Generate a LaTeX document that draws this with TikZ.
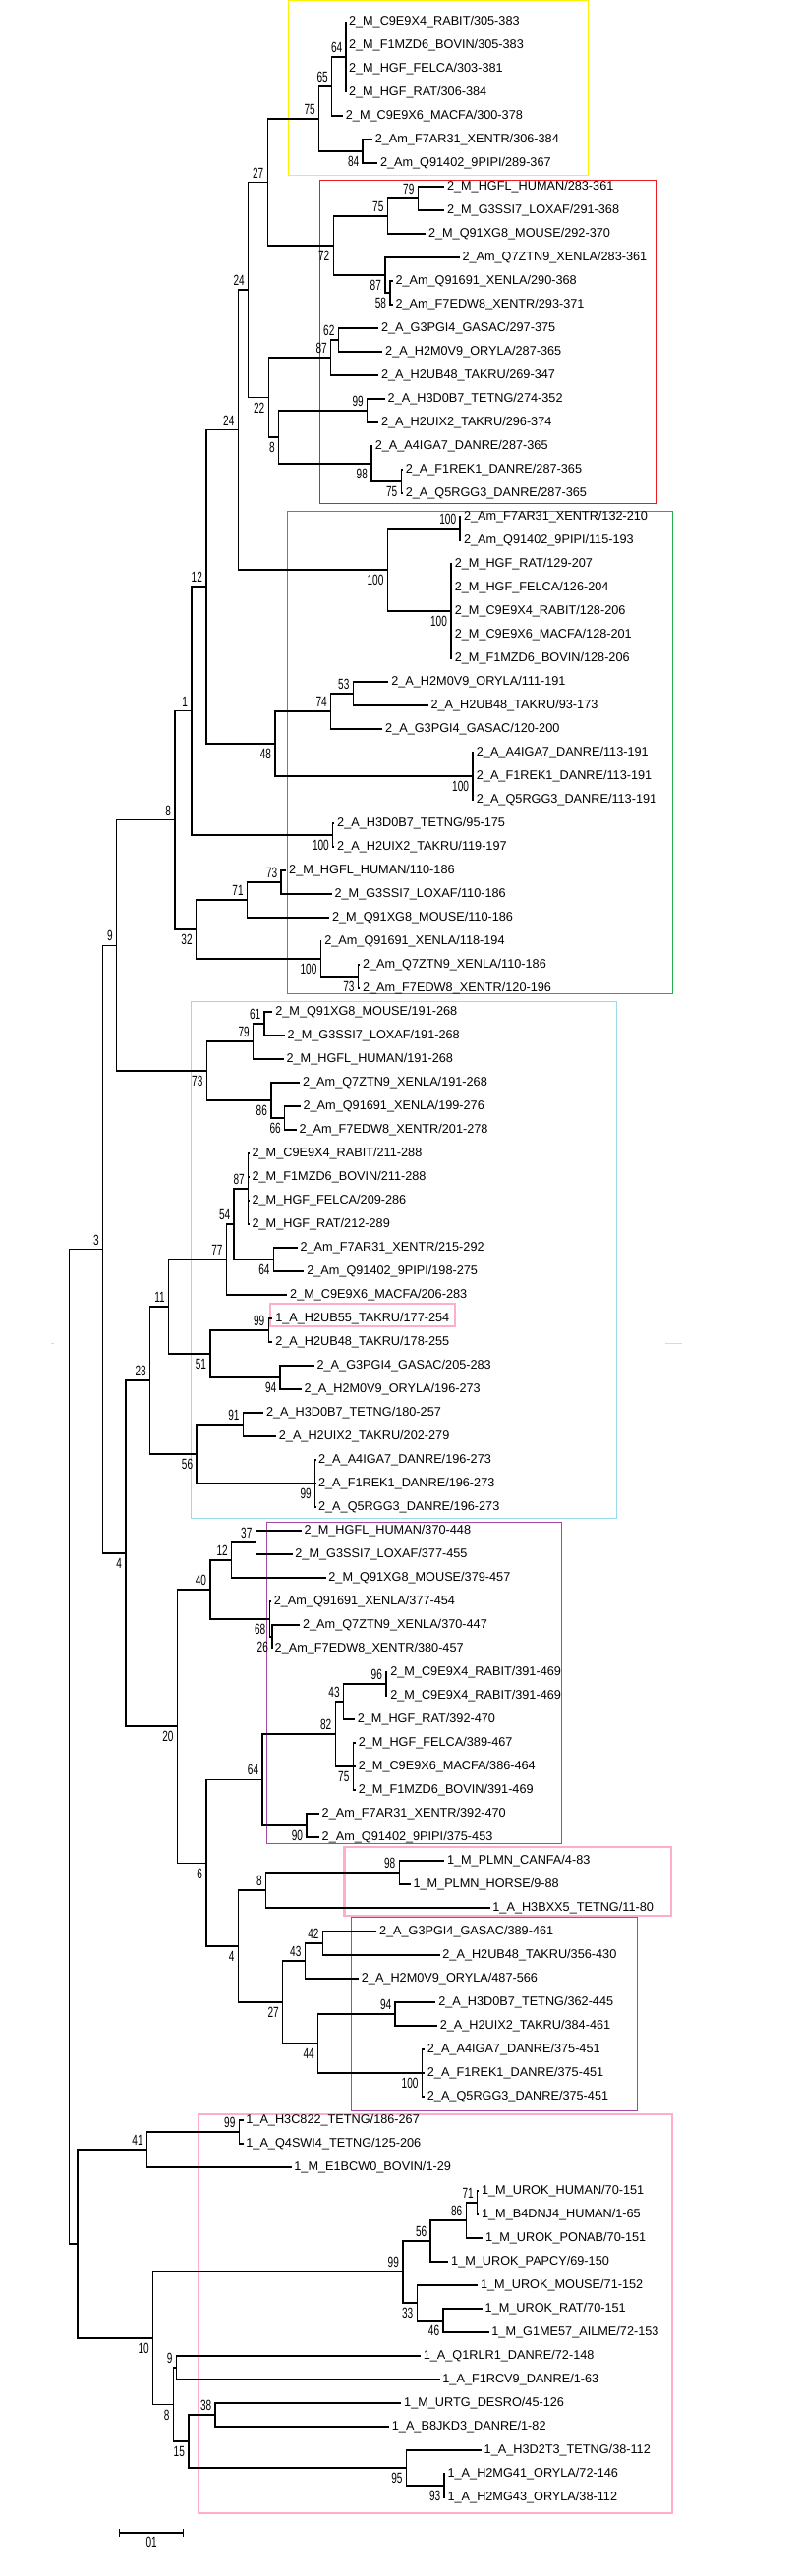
\documentclass[tikz,border=0pt]{standalone}
\usepackage{fontspec}
\setmainfont{Liberation Sans}
\usepackage{graphicx}
\usepackage{xcolor}
\usepackage{tikz}
\definecolor{BoxYellow}{HTML}{FFF200}
\definecolor{BoxRed}{HTML}{ED1C24}
\definecolor{BoxGreen}{HTML}{22B14C}
\definecolor{BoxCyan}{HTML}{99D9EA}
\definecolor{BoxPurple}{HTML}{A349A4}
\definecolor{BoxPink}{HTML}{FFAEC9}
\definecolor{MarkGrey}{HTML}{DADADA}
\newcommand{\bsv}[1]{\scalebox{0.68}[1]{#1}}
\tikzset{
  % Branch
  br/.style={line width=0.7pt,black},
  % Leaf label
  lf/.style={anchor=west,inner xsep=1.25pt,inner ysep=0pt,
             font=\fontsize{6.35}{7}\selectfont},
  % Bootstrap values (above / below the node)
  bU/.style={anchor=south east,inner sep=0pt,xshift=-1.75pt,yshift=2pt,
             font=\fontsize{7.4}{8}\selectfont},
  bD/.style={anchor=north east,inner sep=0pt,xshift=-1.75pt,yshift=-2.5pt,
             font=\fontsize{7.4}{8}\selectfont},
  % Group boxes
  GB/.style={line width=0.5pt},
  gY/.style={GB,draw=BoxYellow},
  gR/.style={GB,draw=BoxRed},
  gG/.style={GB,draw=BoxGreen},
  gC/.style={GB,draw=BoxCyan},
  gP/.style={GB,draw=BoxPurple},
  gK/.style={line width=1.1pt,draw=BoxPink},
  mk/.style={line width=0.5pt,draw=MarkGrey},
  sbl/.style={anchor=north,inner sep=0pt,font=\fontsize{7.4}{8}\selectfont}
}

\begin{document}
\begin{tikzpicture}[x=0.5pt,y=-0.5pt]
  \useasboundingbox (0,0) rectangle (812,2622);

  % group boxes
  \draw[gY] (293.8,0.7) rectangle (598.0,178.3);
  \draw[gR] (325.8,183.3) rectangle (668.6,512.7);
  \draw[gG] (292.8,520) rectangle (684.0,1011);
  \draw[gC] (194.3,1019.3) rectangle (627.3,1545);
  \draw[gK] (274.7,1326.7) rectangle (462.9,1350);
  \draw[gP] (271.1,1549.3) rectangle (571.6,1876.7);
  \draw[gK] (350.5,1880) rectangle (683.0,1949.7);
  \draw[gP] (357.7,1951.7) rectangle (648.0,2148.3);
  \draw[gK] (202.1,2151.7) rectangle (684.0,2557.7);
  \draw[mk] (51.5,1367) -- (54.6,1367);
  \draw[mk] (676.8,1367) -- (694.3,1367);

  % leaves
  \node[lf] (l1) at (352.1,22) {2\_M\_C9E9X4\_RABIT/305-383};
  \node[lf] (l2) at (352.1,46) {2\_M\_F1MZD6\_BOVIN/305-383};
  \node[lf] (l3) at (352.1,70) {2\_M\_HGF\_FELCA/303-381};
  \node[lf] (l4) at (352.1,94) {2\_M\_HGF\_RAT/306-384};
  \node[lf] (l5) at (349.0,118) {2\_M\_C9E9X6\_MACFA/300-378};
  \node[lf] (l6) at (378.9,142) {2\_Am\_F7AR31\_XENTR/306-384};
  \node[lf] (l7) at (384.1,166) {2\_Am\_Q91402\_9PIPI/289-367};
  \node[lf] (l8) at (452.1,190) {2\_M\_HGFL\_HUMAN/283-361};
  \node[lf] (l9) at (452.1,214) {2\_M\_G3SSI7\_LOXAF/291-368};
  \node[lf] (l10) at (433.1,238) {2\_M\_Q91XG8\_MOUSE/292-370};
  \node[lf] (l11) at (467.6,262) {2\_Am\_Q7ZTN9\_XENLA/283-361};
  \node[lf] (l12) at (399.6,286) {2\_Am\_Q91691\_XENLA/290-368};
  \node[lf] (l13) at (399.6,310) {2\_Am\_F7EDW8\_XENTR/293-371};
  \node[lf] (l14) at (385.1,334) {2\_A\_G3PGI4\_GASAC/297-375};
  \node[lf] (l15) at (389.3,358) {2\_A\_H2M0V9\_ORYLA/287-365};
  \node[lf] (l16) at (385.1,382) {2\_A\_H2UB48\_TAKRU/269-347};
  \node[lf] (l17) at (391.8,406) {2\_A\_H3D0B7\_TETNG/274-352};
  \node[lf] (l18) at (385.1,430) {2\_A\_H2UIX2\_TAKRU/296-374};
  \node[lf] (l19) at (378.9,454) {2\_A\_A4IGA7\_DANRE/287-365};
  \node[lf] (l20) at (409.9,478) {2\_A\_F1REK1\_DANRE/287-365};
  \node[lf] (l21) at (409.9,502) {2\_A\_Q5RGG3\_DANRE/287-365};
  \node[lf] (l22) at (469.1,526) {2\_Am\_F7AR31\_XENTR/132-210};
  \node[lf] (l23) at (469.1,550) {2\_Am\_Q91402\_9PIPI/115-193};
  \node[lf] (l24) at (459.9,574) {2\_M\_HGF\_RAT/129-207};
  \node[lf] (l25) at (459.9,598) {2\_M\_HGF\_FELCA/126-204};
  \node[lf] (l26) at (459.9,622) {2\_M\_C9E9X4\_RABIT/128-206};
  \node[lf] (l27) at (459.9,646) {2\_M\_C9E9X6\_MACFA/128-201};
  \node[lf] (l28) at (459.9,670) {2\_M\_F1MZD6\_BOVIN/128-206};
  \node[lf] (l29) at (395.4,694) {2\_A\_H2M0V9\_ORYLA/111-191};
  \node[lf] (l30) at (435.6,718) {2\_A\_H2UB48\_TAKRU/93-173};
  \node[lf] (l31) at (389.3,742) {2\_A\_G3PGI4\_GASAC/120-200};
  \node[lf] (l32) at (482.0,766) {2\_A\_A4IGA7\_DANRE/113-191};
  \node[lf] (l33) at (482.0,790) {2\_A\_F1REK1\_DANRE/113-191};
  \node[lf] (l34) at (482.0,814) {2\_A\_Q5RGG3\_DANRE/113-191};
  \node[lf] (l35) at (340.3,838) {2\_A\_H3D0B7\_TETNG/95-175};
  \node[lf] (l36) at (340.3,862) {2\_A\_H2UIX2\_TAKRU/119-197};
  \node[lf] (l37) at (291.3,886) {2\_M\_HGFL\_HUMAN/110-186};
  \node[lf] (l38) at (337.7,910) {2\_M\_G3SSI7\_LOXAF/110-186};
  \node[lf] (l39) at (335.1,934) {2\_M\_Q91XG8\_MOUSE/110-186};
  \node[lf] (l40) at (327.4,958) {2\_Am\_Q91691\_XENLA/118-194};
  \node[lf] (l41) at (366.1,982) {2\_Am\_Q7ZTN9\_XENLA/110-186};
  \node[lf] (l42) at (366.1,1006) {2\_Am\_F7EDW8\_XENTR/120-196};
  \node[lf] (l43) at (277.4,1030) {2\_M\_Q91XG8\_MOUSE/191-268};
  \node[lf] (l44) at (289.8,1054) {2\_M\_G3SSI7\_LOXAF/191-268};
  \node[lf] (l45) at (288.7,1078) {2\_M\_HGFL\_HUMAN/191-268};
  \node[lf] (l46) at (305.2,1102) {2\_Am\_Q7ZTN9\_XENLA/191-268};
  \node[lf] (l47) at (305.7,1126) {2\_Am\_Q91691\_XENLA/199-276};
  \node[lf] (l48) at (301.6,1150) {2\_Am\_F7EDW8\_XENTR/201-278};
  \node[lf] (l49) at (253.7,1174) {2\_M\_C9E9X4\_RABIT/211-288};
  \node[lf] (l50) at (253.7,1198) {2\_M\_F1MZD6\_BOVIN/211-288};
  \node[lf] (l51) at (253.7,1222) {2\_M\_HGF\_FELCA/209-286};
  \node[lf] (l52) at (253.7,1246) {2\_M\_HGF\_RAT/212-289};
  \node[lf] (l53) at (302.7,1270) {2\_Am\_F7AR31\_XENTR/215-292};
  \node[lf] (l54) at (309.4,1294) {2\_Am\_Q91402\_9PIPI/198-275};
  \node[lf] (l55) at (292.3,1318) {2\_M\_C9E9X6\_MACFA/206-283};
  \node[lf] (l56) at (277.4,1342) {1\_A\_H2UB55\_TAKRU/177-254};
  \node[lf] (l57) at (277.4,1366) {2\_A\_H2UB48\_TAKRU/178-255};
  \node[lf] (l58) at (319.7,1390) {2\_A\_G3PGI4\_GASAC/205-283};
  \node[lf] (l59) at (306.8,1414) {2\_A\_H2M0V9\_ORYLA/196-273};
  \node[lf] (l60) at (268.1,1438) {2\_A\_H3D0B7\_TETNG/180-257};
  \node[lf] (l61) at (281.0,1462) {2\_A\_H2UIX2\_TAKRU/202-279};
  \node[lf] (l62) at (321.2,1486) {2\_A\_A4IGA7\_DANRE/196-273};
  \node[lf] (l63) at (321.2,1510) {2\_A\_F1REK1\_DANRE/196-273};
  \node[lf] (l64) at (321.2,1534) {2\_A\_Q5RGG3\_DANRE/196-273};
  \node[lf] (l65) at (306.8,1558) {2\_M\_HGFL\_HUMAN/370-448};
  \node[lf] (l66) at (297.5,1582) {2\_M\_G3SSI7\_LOXAF/377-455};
  \node[lf] (l67) at (331.5,1606) {2\_M\_Q91XG8\_MOUSE/379-457};
  \node[lf] (l68) at (275.9,1630) {2\_Am\_Q91691\_XENLA/377-454};
  \node[lf] (l69) at (305.2,1654) {2\_Am\_Q7ZTN9\_XENLA/370-447};
  \node[lf] (l70) at (276.8,1678) {2\_Am\_F7EDW8\_XENTR/380-457};
  \node[lf] (l71) at (394.4,1702) {2\_M\_C9E9X4\_RABIT/391-469};
  \node[lf] (l72) at (394.4,1726) {2\_M\_C9E9X4\_RABIT/391-469};
  \node[lf] (l73) at (360.9,1750) {2\_M\_HGF\_RAT/392-470};
  \node[lf] (l74) at (361.9,1774) {2\_M\_HGF\_FELCA/389-467};
  \node[lf] (l75) at (361.9,1798) {2\_M\_C9E9X6\_MACFA/386-464};
  \node[lf] (l76) at (361.9,1822) {2\_M\_F1MZD6\_BOVIN/391-469};
  \node[lf] (l77) at (324.8,1846) {2\_Am\_F7AR31\_XENTR/392-470};
  \node[lf] (l78) at (324.8,1870) {2\_Am\_Q91402\_9PIPI/375-453};
  \node[lf] (l79) at (452.1,1894) {1\_M\_PLMN\_CANFA/4-83};
  \node[lf] (l80) at (417.6,1918) {1\_M\_PLMN\_HORSE/9-88};
  \node[lf] (l81) at (498.5,1942) {1\_A\_H3BXX5\_TETNG/11-80};
  \node[lf] (l82) at (383.1,1966) {2\_A\_G3PGI4\_GASAC/389-461};
  \node[lf] (l83) at (447.5,1990) {2\_A\_H2UB48\_TAKRU/356-430};
  \node[lf] (l84) at (365.0,2014) {2\_A\_H2M0V9\_ORYLA/487-566};
  \node[lf] (l85) at (443.4,2038) {2\_A\_H3D0B7\_TETNG/362-445};
  \node[lf] (l86) at (444.9,2062) {2\_A\_H2UIX2\_TAKRU/384-461};
  \node[lf] (l87) at (432.0,2086) {2\_A\_A4IGA7\_DANRE/375-451};
  \node[lf] (l88) at (432.0,2110) {2\_A\_F1REK1\_DANRE/375-451};
  \node[lf] (l89) at (432.0,2134) {2\_A\_Q5RGG3\_DANRE/375-451};
  \node[lf] (l90) at (247.5,2158) {1\_A\_H3C822\_TETNG/186-267};
  \node[lf] (l91) at (247.5,2182) {1\_A\_Q4SWI4\_TETNG/125-206};
  \node[lf] (l92) at (296.5,2206) {1\_M\_E1BCW0\_BOVIN/1-29};
  \node[lf] (l93) at (487.2,2230) {1\_M\_UROK\_HUMAN/70-151};
  \node[lf] (l94) at (487.2,2254) {1\_M\_B4DNJ4\_HUMAN/1-65};
  \node[lf] (l95) at (491.3,2278) {1\_M\_UROK\_PONAB/70-151};
  \node[lf] (l96) at (456.3,2302) {1\_M\_UROK\_PAPCY/69-150};
  \node[lf] (l97) at (486.2,2326) {1\_M\_UROK\_MOUSE/71-152};
  \node[lf] (l98) at (490.8,2350) {1\_M\_UROK\_RAT/70-151};
  \node[lf] (l99) at (497.5,2374) {1\_M\_G1ME57\_AILME/72-153};
  \node[lf] (l100) at (427.9,2398) {1\_A\_Q1RLR1\_DANRE/72-148};
  \node[lf] (l101) at (447.5,2422) {1\_A\_F1RCV9\_DANRE/1-63};
  \node[lf] (l102) at (408.3,2446) {1\_M\_URTG\_DESRO/45-126};
  \node[lf] (l103) at (396.0,2470) {1\_A\_B8JKD3\_DANRE/1-82};
  \node[lf] (l104) at (489.8,2494) {1\_A\_H3D2T3\_TETNG/38-112};
  \node[lf] (l105) at (452.7,2518) {1\_A\_H2MG41\_ORYLA/72-146};
  \node[lf] (l106) at (452.7,2542) {1\_A\_H2MG43\_ORYLA/38-112};

  % internal nodes
  \coordinate (A64) at (352.1,58);   \coordinate (A65) at (337.6,88);
  \coordinate (A84) at (369.1,154);  \coordinate (A75) at (324.7,121);
  \coordinate (A27) at (272.2,185.5);
  \coordinate (R79) at (425.3,202);  \coordinate (R75) at (394.3,220);
  \coordinate (R58) at (396.9,298);  \coordinate (R87a) at (391.8,280);
  \coordinate (R72) at (339.2,250);  \coordinate (R62) at (344.3,346);
  \coordinate (R87b) at (336.6,364); \coordinate (R99) at (373.7,418);
  \coordinate (R75c) at (408.2,490); \coordinate (R98) at (377.8,472);
  \coordinate (R8) at (283.5,445);   \coordinate (R22) at (273.2,404.5);
  \coordinate (N24a) at (252.6,295);
  \coordinate (G100b) at (468.0,538); \coordinate (G100c) at (458.8,622);
  \coordinate (G100a) at (394.3,580); \coordinate (N24b) at (242.3,437.5);
  \coordinate (G53) at (359.3,706);  \coordinate (G74) at (336.6,724);
  \coordinate (G100d) at (480.9,790); \coordinate (G48) at (279.9,757);
  \coordinate (N12) at (209.8,597);  \coordinate (G100e) at (338.7,850);
  \coordinate (N1) at (194.8,723.5);
  \coordinate (G73) at (286.1,898);  \coordinate (G71) at (251.5,916);
  \coordinate (G73b) at (364.4,994); \coordinate (G100f) at (326.3,976);
  \coordinate (G32) at (199.5,946);  \coordinate (N8) at (177.8,834.75);
  \coordinate (N9) at (118.6,962.4);
  \coordinate (C61) at (269.1,1042); \coordinate (C79) at (257.7,1060);
  \coordinate (C66) at (289.7,1138); \coordinate (C86) at (275.8,1120);
  \coordinate (C73) at (210.3,1090);
  \coordinate (C87) at (252.6,1210); \coordinate (C64) at (278.4,1282);
  \coordinate (C54) at (238.1,1246); \coordinate (C77) at (230.4,1282);
  \coordinate (C99) at (273.2,1354); \coordinate (C94) at (285.1,1402);
  \coordinate (C51) at (213.9,1378); \coordinate (C11) at (171.6,1330);
  \coordinate (C91) at (247.4,1450); \coordinate (C99b) at (320.6,1510);
  \coordinate (C56) at (200.0,1480); \coordinate (C23) at (152.6,1405);
  \coordinate (N3) at (104.6,1271.7); \coordinate (N4) at (127.8,1581.1);
  \coordinate (P37) at (260.3,1570); \coordinate (P12) at (235.6,1588);
  \coordinate (P26) at (276.8,1666); \coordinate (P68) at (274.2,1648);
  \coordinate (P40) at (213.9,1618);
  \coordinate (P96) at (392.8,1714); \coordinate (P43) at (349.5,1732);
  \coordinate (P75) at (359.3,1798); \coordinate (P82) at (341.2,1765);
  \coordinate (P90) at (311.9,1858); \coordinate (P64) at (267.0,1811.5);
  \coordinate (N6) at (209.8,1896.25); \coordinate (N20) at (180.4,1757.1);
  \coordinate (K98) at (406.2,1906); \coordinate (K8) at (270.6,1924);
  \coordinate (Q42) at (328.4,1978); \coordinate (Q43) at (310.3,1996);
  \coordinate (Q94) at (402.1,2050); \coordinate (Q100) at (429.4,2110);
  \coordinate (Q44) at (323.7,2080); \coordinate (Q27) at (287.6,2038);
  \coordinate (N4b) at (242.3,1981);
  \coordinate (L99) at (243.3,2170); \coordinate (L41) at (149.5,2188);
  \coordinate (L71) at (485.6,2242); \coordinate (L86) at (474.2,2260);
  \coordinate (L56) at (438.1,2281); \coordinate (L46) at (451.0,2362);
  \coordinate (L33) at (424.2,2344); \coordinate (L99b) at (409.8,2312.5);
  \coordinate (L9) at (179.4,2410);  \coordinate (L38) at (219.1,2458);
  \coordinate (L93) at (452.1,2530); \coordinate (L95) at (413.4,2512);
  \coordinate (L15) at (191.8,2485); \coordinate (L8) at (176.3,2447.5);
  \coordinate (L10) at (155.7,2380); \coordinate (NL) at (78.9,2284);
  \coordinate (root) at (70.6,1777.85);

  % branches
  \draw[br] (A64) |- (l1.west) (A64) |- (l2.west) (A64) |- (l3.west) (A64) |- (l4.west);
  \draw[br] (A65) |- (A64) (A65) |- (l5.west);
  \draw[br] (A84) |- (l6.west) (A84) |- (l7.west);
  \draw[br] (A75) |- (A65) (A75) |- (A84);
  \draw[br] (A27) |- (A75) (A27) |- (R72);
  \draw[br] (R79) |- (l8.west) (R79) |- (l9.west);
  \draw[br] (R75) |- (R79) (R75) |- (l10.west);
  \draw[br] (R58) |- (l12.west) (R58) |- (l13.west);
  \draw[br] (R87a) |- (l11.west) (R87a) |- (R58);
  \draw[br] (R72) |- (R75) (R72) |- (R87a);
  \draw[br] (R62) |- (l14.west) (R62) |- (l15.west);
  \draw[br] (R87b) |- (R62) (R87b) |- (l16.west);
  \draw[br] (R99) |- (l17.west) (R99) |- (l18.west);
  \draw[br] (R75c) |- (l20.west) (R75c) |- (l21.west);
  \draw[br] (R98) |- (l19.west) (R98) |- (R75c);
  \draw[br] (R8) |- (R99) (R8) |- (R98);
  \draw[br] (R22) |- (R87b) (R22) |- (R8);
  \draw[br] (N24a) |- (A27) (N24a) |- (R22);
  \draw[br] (G100b) |- (l22.west) (G100b) |- (l23.west);
  \draw[br] (G100c) |- (l24.west) (G100c) |- (l25.west) (G100c) |- (l26.west)
            (G100c) |- (l27.west) (G100c) |- (l28.west);
  \draw[br] (G100a) |- (G100b) (G100a) |- (G100c);
  \draw[br] (N24b) |- (N24a) (N24b) |- (G100a);
  \draw[br] (G53) |- (l29.west) (G53) |- (l30.west);
  \draw[br] (G74) |- (G53) (G74) |- (l31.west);
  \draw[br] (G100d) |- (l32.west) (G100d) |- (l33.west) (G100d) |- (l34.west);
  \draw[br] (G48) |- (G74) (G48) |- (G100d);
  \draw[br] (N12) |- (N24b) (N12) |- (G48);
  \draw[br] (G100e) |- (l35.west) (G100e) |- (l36.west);
  \draw[br] (N1) |- (N12) (N1) |- (G100e);
  \draw[br] (G73) |- (l37.west) (G73) |- (l38.west);
  \draw[br] (G71) |- (G73) (G71) |- (l39.west);
  \draw[br] (G73b) |- (l41.west) (G73b) |- (l42.west);
  \draw[br] (G100f) |- (l40.west) (G100f) |- (G73b);
  \draw[br] (G32) |- (G71) (G32) |- (G100f);
  \draw[br] (N8) |- (N1) (N8) |- (G32);
  \draw[br] (N9) |- (N8) (N9) |- (C73);
  \draw[br] (C61) |- (l43.west) (C61) |- (l44.west);
  \draw[br] (C79) |- (C61) (C79) |- (l45.west);
  \draw[br] (C66) |- (l47.west) (C66) |- (l48.west);
  \draw[br] (C86) |- (l46.west) (C86) |- (C66);
  \draw[br] (C73) |- (C79) (C73) |- (C86);
  \draw[br] (C87) |- (l49.west) (C87) |- (l50.west) (C87) |- (l51.west) (C87) |- (l52.west);
  \draw[br] (C64) |- (l53.west) (C64) |- (l54.west);
  \draw[br] (C54) |- (C87) (C54) |- (C64);
  \draw[br] (C77) |- (C54) (C77) |- (l55.west);
  \draw[br] (C99) |- (l56.west) (C99) |- (l57.west);
  \draw[br] (C94) |- (l58.west) (C94) |- (l59.west);
  \draw[br] (C51) |- (C99) (C51) |- (C94);
  \draw[br] (C11) |- (C77) (C11) |- (C51);
  \draw[br] (C91) |- (l60.west) (C91) |- (l61.west);
  \draw[br] (C99b) |- (l62.west) (C99b) |- (l63.west) (C99b) |- (l64.west);
  \draw[br] (C56) |- (C91) (C56) |- (C99b);
  \draw[br] (C23) |- (C11) (C23) |- (C56);
  \draw[br] (N3) |- (N9) (N3) |- (N4);
  \draw[br] (N4) |- (C23) (N4) |- (N20);
  \draw[br] (P37) |- (l65.west) (P37) |- (l66.west);
  \draw[br] (P12) |- (P37) (P12) |- (l67.west);
  \draw[br] (P26) |- (l69.west) (P26) |- (l70.west);
  \draw[br] (P68) |- (l68.west) (P68) |- (P26);
  \draw[br] (P40) |- (P12) (P40) |- (P68);
  \draw[br] (P96) |- (l71.west) (P96) |- (l72.west);
  \draw[br] (P43) |- (P96) (P43) |- (l73.west);
  \draw[br] (P75) |- (l74.west) (P75) |- (l75.west) (P75) |- (l76.west);
  \draw[br] (P82) |- (P43) (P82) |- (P75);
  \draw[br] (P90) |- (l77.west) (P90) |- (l78.west);
  \draw[br] (P64) |- (P82) (P64) |- (P90);
  \draw[br] (N20) |- (P40) (N20) |- (N6);
  \draw[br] (N6) |- (P64) (N6) |- (N4b);
  \draw[br] (K98) |- (l79.west) (K98) |- (l80.west);
  \draw[br] (K8) |- (K98) (K8) |- (l81.west);
  \draw[br] (Q42) |- (l82.west) (Q42) |- (l83.west);
  \draw[br] (Q43) |- (Q42) (Q43) |- (l84.west);
  \draw[br] (Q94) |- (l85.west) (Q94) |- (l86.west);
  \draw[br] (Q100) |- (l87.west) (Q100) |- (l88.west) (Q100) |- (l89.west);
  \draw[br] (Q44) |- (Q94) (Q44) |- (Q100);
  \draw[br] (Q27) |- (Q43) (Q27) |- (Q44);
  \draw[br] (N4b) |- (K8) (N4b) |- (Q27);
  \draw[br] (L99) |- (l90.west) (L99) |- (l91.west);
  \draw[br] (L41) |- (L99) (L41) |- (l92.west);
  \draw[br] (L71) |- (l93.west) (L71) |- (l94.west);
  \draw[br] (L86) |- (L71) (L86) |- (l95.west);
  \draw[br] (L56) |- (L86) (L56) |- (l96.west);
  \draw[br] (L46) |- (l98.west) (L46) |- (l99.west);
  \draw[br] (L33) |- (l97.west) (L33) |- (L46);
  \draw[br] (L99b) |- (L56) (L99b) |- (L33);
  \draw[br] (L9) |- (l100.west) (L9) |- (l101.west);
  \draw[br] (L38) |- (l102.west) (L38) |- (l103.west);
  \draw[br] (L93) |- (l105.west) (L93) |- (l106.west);
  \draw[br] (L95) |- (l104.west) (L95) |- (L93);
  \draw[br] (L15) |- (L38) (L15) |- (L95);
  \draw[br] (L8) |- (L9) (L8) |- (L15);
  \draw[br] (L10) |- (L99b) (L10) |- (L8);
  \draw[br] (NL) |- (L41) (NL) |- (L10);
  \draw[br] (root) |- (N3) (root) |- (NL);

  % bootstrap values
  \node[bU] (bA64) at (A64) {\bsv{64}};
  \node[bU] (bA65) at (A65) {\bsv{65}};
  \node[bD] (bA84) at (A84) {\bsv{84}};
  \node[bU] (bA75) at (A75) {\bsv{75}};
  \node[bU] (bA27) at (A27) {\bsv{27}};
  \node[bU] (bR79) at (R79) {\bsv{79}};
  \node[bU] (bR75) at (R75) {\bsv{75}};
  \node[bD] (bR58) at (R58) {\bsv{58}};
  \node[bD] (bR87a) at (R87a) {\bsv{87}};
  \node[bD] (bR72) at (R72) {\bsv{72}};
  \node[bU] (bR62) at (R62) {\bsv{62}};
  \node[bU] (bR87b) at (R87b) {\bsv{87}};
  \node[bU] (bR99) at (R99) {\bsv{99}};
  \node[bD] (bR75c) at (R75c) {\bsv{75}};
  \node[bD] (bR98) at (R98) {\bsv{98}};
  \node[bD] (bR8) at (R8) {\bsv{8}};
  \node[bD] (bR22) at (R22) {\bsv{22}};
  \node[bU] (bN24a) at (N24a) {\bsv{24}};
  \node[bU] (bG100b) at (G100b) {\bsv{100}};
  \node[bD] (bG100c) at (G100c) {\bsv{100}};
  \node[bD] (bG100a) at (G100a) {\bsv{100}};
  \node[bU] (bN24b) at (N24b) {\bsv{24}};
  \node[bU] (bG53) at (G53) {\bsv{53}};
  \node[bU] (bG74) at (G74) {\bsv{74}};
  \node[bD] (bG100d) at (G100d) {\bsv{100}};
  \node[bD] (bG48) at (G48) {\bsv{48}};
  \node[bU] (bN12) at (N12) {\bsv{12}};
  \node[bD] (bG100e) at (G100e) {\bsv{100}};
  \node[bU] (bN1) at (N1) {\bsv{1}};
  \node[bU] (bG73) at (G73) {\bsv{73}};
  \node[bU] (bG71) at (G71) {\bsv{71}};
  \node[bD] (bG73b) at (G73b) {\bsv{73}};
  \node[bD] (bG100f) at (G100f) {\bsv{100}};
  \node[bD] (bG32) at (G32) {\bsv{32}};
  \node[bU] (bN8) at (N8) {\bsv{8}};
  \node[bU] (bN9) at (N9) {\bsv{9}};
  \node[bU] (bC61) at (C61) {\bsv{61}};
  \node[bU] (bC79) at (C79) {\bsv{79}};
  \node[bD] (bC66) at (C66) {\bsv{66}};
  \node[bD] (bC86) at (C86) {\bsv{86}};
  \node[bD] (bC73) at (C73) {\bsv{73}};
  \node[bU] (bC87) at (C87) {\bsv{87}};
  \node[bD] (bC64) at (C64) {\bsv{64}};
  \node[bU] (bC54) at (C54) {\bsv{54}};
  \node[bU] (bC77) at (C77) {\bsv{77}};
  \node[bU] (bC99) at (C99) {\bsv{99}};
  \node[bD] (bC94) at (C94) {\bsv{94}};
  \node[bD] (bC51) at (C51) {\bsv{51}};
  \node[bU] (bC11) at (C11) {\bsv{11}};
  \node[bU] (bC91) at (C91) {\bsv{91}};
  \node[bD] (bC99b) at (C99b) {\bsv{99}};
  \node[bD] (bC56) at (C56) {\bsv{56}};
  \node[bU] (bC23) at (C23) {\bsv{23}};
  \node[bU] (bN3) at (N3) {\bsv{3}};
  \node[bD] (bN4) at (N4) {\bsv{4}};
  \node[bU] (bP37) at (P37) {\bsv{37}};
  \node[bU] (bP12) at (P12) {\bsv{12}};
  \node[bD] (bP26) at (P26) {\bsv{26}};
  \node[bD] (bP68) at (P68) {\bsv{68}};
  \node[bU] (bP40) at (P40) {\bsv{40}};
  \node[bU] (bP96) at (P96) {\bsv{96}};
  \node[bU] (bP43) at (P43) {\bsv{43}};
  \node[bD] (bP75) at (P75) {\bsv{75}};
  \node[bU] (bP82) at (P82) {\bsv{82}};
  \node[bD] (bP90) at (P90) {\bsv{90}};
  \node[bU] (bP64) at (P64) {\bsv{64}};
  \node[bD] (bN6) at (N6) {\bsv{6}};
  \node[bD] (bN20) at (N20) {\bsv{20}};
  \node[bU] (bK98) at (K98) {\bsv{98}};
  \node[bU] (bK8) at (K8) {\bsv{8}};
  \node[bU] (bQ42) at (Q42) {\bsv{42}};
  \node[bU] (bQ43) at (Q43) {\bsv{43}};
  \node[bU] (bQ94) at (Q94) {\bsv{94}};
  \node[bD] (bQ100) at (Q100) {\bsv{100}};
  \node[bD] (bQ44) at (Q44) {\bsv{44}};
  \node[bD] (bQ27) at (Q27) {\bsv{27}};
  \node[bD] (bN4b) at (N4b) {\bsv{4}};
  \node[bU] (bL99) at (L99) {\bsv{99}};
  \node[bU] (bL41) at (L41) {\bsv{41}};
  \node[bU] (bL71) at (L71) {\bsv{71}};
  \node[bU] (bL86) at (L86) {\bsv{86}};
  \node[bU] (bL56) at (L56) {\bsv{56}};
  \node[bD] (bL46) at (L46) {\bsv{46}};
  \node[bD] (bL33) at (L33) {\bsv{33}};
  \node[bU] (bL99b) at (L99b) {\bsv{99}};
  \node[bU] (bL9) at (L9) {\bsv{9}};
  \node[bU] (bL38) at (L38) {\bsv{38}};
  \node[bD] (bL93) at (L93) {\bsv{93}};
  \node[bD] (bL95) at (L95) {\bsv{95}};
  \node[bD] (bL15) at (L15) {\bsv{15}};
  \node[bD] (bL8) at (L8) {\bsv{8}};
  \node[bD] (bL10) at (L10) {\bsv{10}};

  % scale bar
  \coordinate (s0) at (121.6,2578);
  \coordinate (s1) at (186.6,2578);
  \draw[br] (s0) -- (s1);
  \draw[br] ([yshift=2pt]s0) -- ([yshift=-2pt]s0);
  \draw[br] ([yshift=2pt]s1) -- ([yshift=-2pt]s1);
  \node[sbl] (sb) at (154.1,2582) {\bsv{01}};
\end{tikzpicture}
\end{document}
